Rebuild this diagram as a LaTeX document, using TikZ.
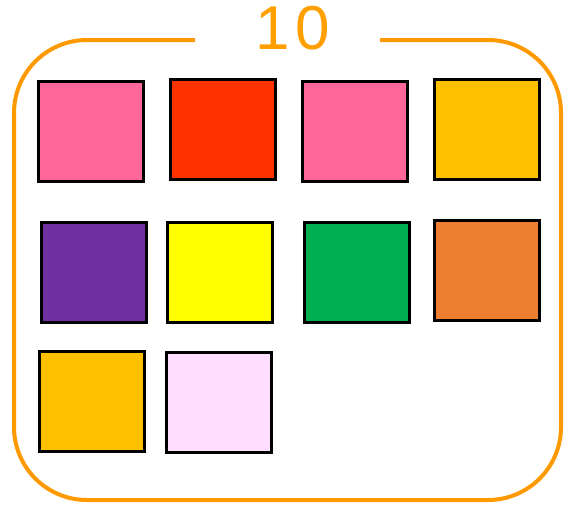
\documentclass[tikz,border=0pt]{standalone}
\usepackage{fontspec}
\setmainfont{Liberation Sans}
\definecolor{frameorange}{RGB}{255,153,0}
\definecolor{textorange}{RGB}{255,160,0}
\definecolor{cpink}{RGB}{255,102,153}
\definecolor{cred}{RGB}{255,51,0}
\definecolor{cgold}{RGB}{255,192,0}
\definecolor{cpurple}{RGB}{112,48,160}
\definecolor{cyellow}{RGB}{255,255,0}
\definecolor{cgreen}{RGB}{0,176,80}
\definecolor{corange}{RGB}{237,125,49}
\definecolor{clight}{RGB}{255,221,255}
\tikzset{
  tile/.style={draw=black, line width=3pt, inner sep=0pt, minimum width=105pt, minimum height=100pt},
  frameline/.style={draw=frameorange, line width=4pt, rounded corners=73pt},
  titletext/.style={text=textorange, font=\fontsize{62}{62}\selectfont, inner sep=0pt}
}
\begin{document}
\begin{tikzpicture}[x=1pt,y=-1pt]
\useasboundingbox (0,0) rectangle (570,506);
% frame with a gap for the title
\coordinate (gr) at (380,40);
\coordinate (gl) at (195,40);
\draw[frameline] (gr) -- (561,40) -- (561,500) -- (14,500) -- (14,40) -- (gl);
\node[titletext] (title) at (293,28) {1\hspace{6pt}0};
% tiles
\node[tile, fill=cpink]   (t1)  at (90.5,131) {};
\node[tile, fill=cred]    (t2)  at (223,129) {};
\node[tile, fill=cpink]   (t3)  at (354.5,131) {};
\node[tile, fill=cgold]   (t4)  at (487,129.5) {};
\node[tile, fill=cpurple] (t5)  at (93.5,272) {};
\node[tile, fill=cyellow] (t6)  at (220.3,272) {};
\node[tile, fill=cgreen]  (t7)  at (357.3,272) {};
\node[tile, fill=corange] (t8)  at (486.8,270) {};
\node[tile, fill=cgold]   (t9)  at (91.7,401.3) {};
\node[tile, fill=clight]  (t10) at (219,402) {};
\end{tikzpicture}
\end{document}
